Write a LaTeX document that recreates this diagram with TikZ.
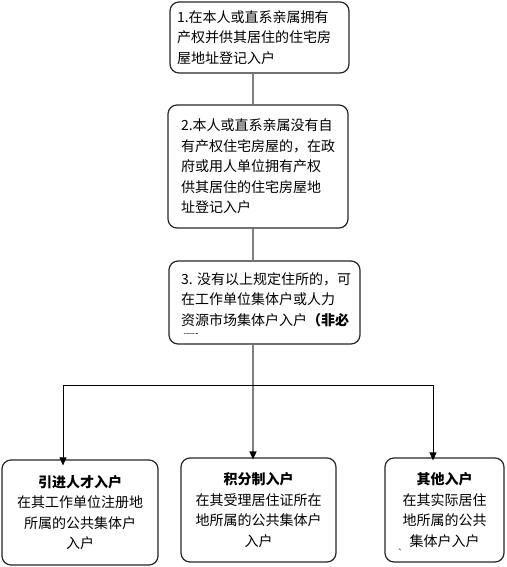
\documentclass[tikz,border=0pt]{standalone}
\usepackage{fontspec}
\setmainfont{Noto Sans CJK SC}
\usetikzlibrary{arrows.meta}

\begin{document}
\begin{tikzpicture}[x=1pt,y=-1pt,
		box/.style={draw=black!85,line width=1.2pt,rounded corners=9pt,inner sep=0pt},
		txt/.style={font=\fontsize{14}{20.5}\selectfont},
		link/.style={draw=black!50,line width=1.6pt},
		tip/.style={-{Triangle[length=8pt,width=7pt,color=black]}}]
		\useasboundingbox (0,0) rectangle (506,567);
		% upper chain
		\node[box,txt,minimum width=179pt,minimum height=71pt,text width=165pt,align=left] (one) at (259.5,37.5)
		{1.在本人或直系亲属拥有\\产权并供其居住的住宅房\\屋地址登记入户};
		\node[box,txt,minimum width=180pt,minimum height=123pt,text width=154pt,align=left] (two) at (258,166.5)
		{2.本人或直系亲属没有自\\有产权住宅房屋的，在政\\府或用人单位拥有产权\\供其居住的住宅房屋地\\址登记入户};
		\node[box,minimum width=191pt,minimum height=83pt] (three) at (264.5,302.5) {};
		\begin{scope}
		\clip (172,265) rectangle (357,333);
		\node[txt,inner sep=0pt,align=left,anchor=north west] (threetext) at (181,272)
		{3. 没有以上规定住所的，可\\在工作单位集体户或人力\\资源市场集体户入户\textbf{（非必}\\\textbf{须）}};
		\end{scope}
		% lower row
		\node[box,txt,minimum width=156pt,minimum height=105pt,align=center] (talent) at (80,512.5)
		{\textbf{引进人才入户}\\在其工作单位注册地\\所属的公共集体户\\入户};
		\node[box,txt,minimum width=155pt,minimum height=104pt,align=center] (points) at (258.5,510)
		{\textbf{积分制入户}\\在其受理居住证所在\\地所属的公共集体户\\入户};
		\node[box,txt,minimum width=119pt,minimum height=104pt,align=center] (other) at (444.5,510)
		{\textbf{其他入户}\\在其实际居住\\地所属的公共\\集体户入户};
		\node[font=\fontsize{7}{7}\selectfont,inner sep=0pt] (dot) at (402,550) {、};
		% connectors
		\coordinate (trunk) at (253,385);
		\coordinate (lt) at (63,385);
		\coordinate (rt) at (433,385);
		\draw[link] (trunk |- one.south) -- (trunk |- two.north);
		\draw[link] (trunk |- two.south) -- (trunk |- three.north);
		\draw[link,tip] (trunk |- three.south) -- ([yshift=-2pt]trunk |- points.north);
		\draw[line width=0.9pt] (lt) -- (rt);
		\draw[line width=0.9pt,tip] (lt) -- ([yshift=-6pt]lt |- talent.north);
		\draw[line width=0.9pt,tip] (rt) -- ([yshift=-3pt]rt |- other.north);
		\end{tikzpicture}
\end{document}
